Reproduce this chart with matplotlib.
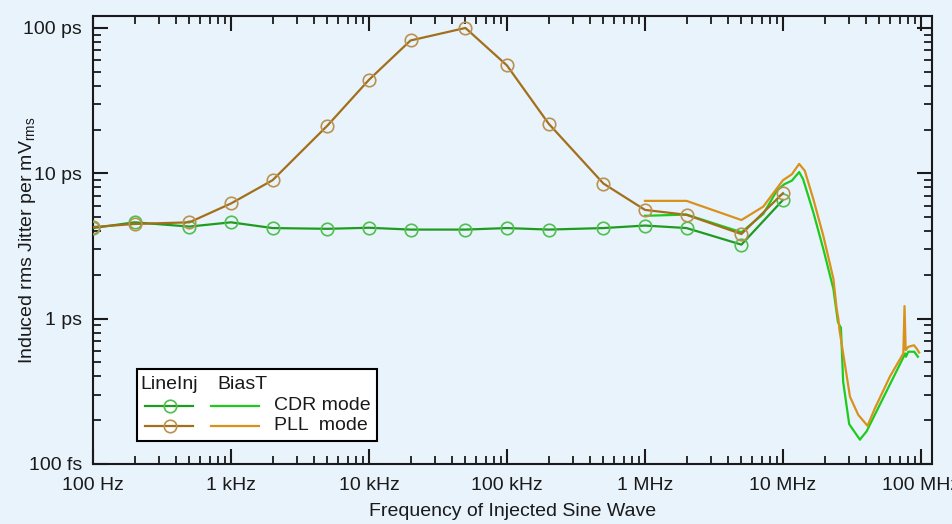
import matplotlib
matplotlib.use("Agg")
import matplotlib.pyplot as plt
from matplotlib.patches import Rectangle
from matplotlib.lines import Line2D

plt.rcParams['font.family'] = ['Liberation Sans', 'DejaVu Sans']
plt.rcParams['mathtext.default'] = 'regular'

# LineInj measurements (frequency in Hz, jitter in ps)
lineinj_freq = [100, 200, 500, 1e3, 2e3, 5e3, 1e4, 2e4, 5e4, 1e5, 2e5, 5e5, 1e6, 2e6, 5e6, 1e7]
lineinj_cdr = [4.2, 4.6, 4.3, 4.6, 4.2, 4.15, 4.22, 4.1, 4.1, 4.2, 4.1, 4.2, 4.37, 4.2, 3.23, 6.56]
lineinj_pll = [4.27, 4.48, 4.6, 6.2, 8.96, 21.3, 44, 82, 100, 55.2, 22, 8.5, 5.6, 5.18, 3.82, 7.3]

# BiasT measurements
biast_cdr_freq = [1e6, 2e6, 5e6, 7.2e6, 9e6, 1.02e7, 1.16e7, 1.31e7, 1.40e7, 1.66e7, 1.96e7,
                  2.32e7, 2.50e7, 2.60e7, 2.63e7, 2.73e7, 3.02e7, 3.61e7, 4.04e7, 7.7e7,
                  7.78e7, 8.1e7, 8.95e7, 9.5e7]
biast_cdr = [5.1, 5.2, 3.93, 5.25, 7.56, 8.4, 8.9, 10.2, 9.1, 5.38, 3.02,
             1.60, 0.95, 0.88, 0.87, 0.368, 0.188, 0.147, 0.168, 0.576,
             0.547, 0.592, 0.592, 0.547]

biast_pll_freq = [1e6, 2e6, 5e6, 7.2e6, 1.0e7, 1.16e7, 1.31e7, 1.44e7, 1.66e7, 1.96e7, 2.32e7,
                  2.45e7, 2.52e7, 2.57e7, 3.06e7, 3.51e7, 4.1e7, 4.64e7, 5.96e7, 7.45e7,
                  7.6e7, 7.75e7, 8.1e7, 8.9e7, 9.3e7, 9.7e7]
biast_pll = [6.46, 6.46, 4.77, 5.9, 8.96, 9.85, 11.6, 10.4, 6.64, 3.72, 1.88,
             1.17, 1.0, 0.83, 0.29, 0.218, 0.183, 0.242, 0.40, 0.576,
             1.22, 0.607, 0.64, 0.656, 0.623, 0.585]

xticks = [1e2, 1e3, 1e4, 1e5, 1e6, 1e7, 1e8]
xticklabels = ["100 Hz", "1 kHz", "10 kHz", "100 kHz", "1 MHz", "10 MHz", "100 MHz"]
yticks = [0.1, 1, 10, 100]
yticklabels = ["100 fs", "1 ps", "10 ps", "100 ps"]

c_li_cdr, c_li_cdr_m = "#1f9c1f", "#4fc04f"
c_li_pll, c_li_pll_m = "#a2701a", "#bb9150"
c_bt_cdr = "#1ccc1c"
c_bt_pll = "#d8921c"
bg = "#e9f3fc"
txt = "#1a1a1a"
fs = 14

fig = plt.figure(figsize=(9.52, 5.24), dpi=100, facecolor=bg)
ax = fig.add_axes([93 / 952, 1 - 464 / 524, 839 / 952, 448 / 524])
ax.set_facecolor(bg)

ax.plot(biast_cdr_freq, biast_cdr, color=c_bt_cdr, lw=1.6, zorder=3)
ax.plot(biast_pll_freq, biast_pll, color=c_bt_pll, lw=1.6, zorder=3)
ax.plot(lineinj_freq, lineinj_cdr, color=c_li_cdr, lw=1.6, marker='o', ms=9,
        mfc='none', mec=c_li_cdr_m, mew=1.2, zorder=4)
ax.plot(lineinj_freq, lineinj_pll, color=c_li_pll, lw=1.6, marker='o', ms=9,
        mfc='none', mec=c_li_pll_m, mew=1.2, zorder=4)

ax.set_xscale('log')
ax.set_yscale('log')
ax.set_xlim(100, 10 ** 8.08)
ax.set_ylim(0.1, 10 ** (2 + 12 / 146))
ax.set_xticks(xticks)
ax.set_xticklabels(xticklabels)
ax.set_yticks(yticks)
ax.set_yticklabels(yticklabels)

for s in ax.spines.values():
    s.set_linewidth(1.5)
    s.set_color(txt)
ax.tick_params(which='both', direction='in', top=True, right=True, color=txt, labelcolor=txt)
ax.tick_params(which='major', length=11, width=1.5, labelsize=fs)
ax.tick_params(which='minor', length=6, width=1.3)
ax.tick_params(axis='x', which='major', pad=9)
ax.tick_params(axis='y', which='major', pad=8)

ax.set_xlabel("Frequency of Injected Sine Wave", fontsize=fs, color=txt)
ax.xaxis.set_label_coords(0.5, -0.088)
ax.set_ylabel("Induced rms Jitter per mV$_{rms}$", fontsize=fs, color=txt)
ax.yaxis.set_label_coords(-0.0655, 0.5)

# hand-made two-column legend
tr = ax.transAxes
ax.add_patch(Rectangle((0.0524, 0.0513), 0.2861, 0.1608, transform=tr, facecolor='white',
                       edgecolor='black', lw=1.5, zorder=6))
ax.text(0.057, 0.178, "LineInj", transform=tr, fontsize=fs, va='center', ha='left', color=txt, zorder=7)
ax.text(0.148, 0.178, "BiasT", transform=tr, fontsize=fs, va='center', ha='left', color=txt, zorder=7)
for yy, lc, mc, bc, lab in [(0.130, c_li_cdr, c_li_cdr_m, c_bt_cdr, "CDR mode"),
                            (0.0855, c_li_pll, c_li_pll_m, c_bt_pll, "PLL  mode")]:
    ax.add_line(Line2D([0.062, 0.119], [yy, yy], transform=tr, color=lc, lw=1.6, zorder=7))
    ax.add_line(Line2D([0.0918], [yy], transform=tr, marker='o', ms=9, mfc='none',
                       mec=mc, mew=1.2, zorder=7))
    ax.add_line(Line2D([0.1406, 0.1978], [yy, yy], transform=tr, color=bc, lw=1.6, zorder=7))
    ax.text(0.2157, yy, lab, transform=tr, fontsize=fs, va='center', ha='left', color=txt, zorder=7)

fig.savefig("out.png", dpi=100, facecolor=bg)
